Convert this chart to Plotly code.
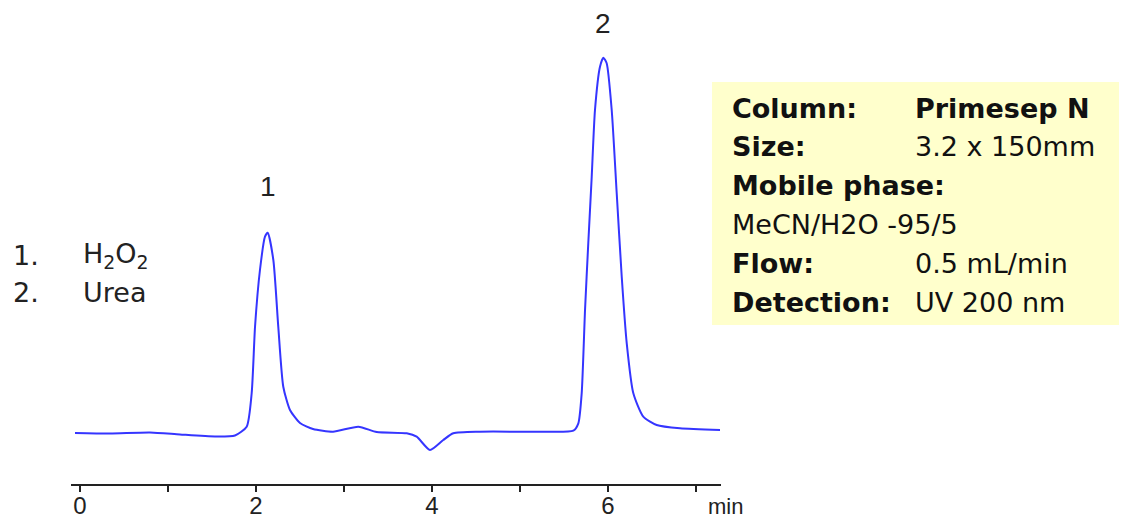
import plotly.graph_objects as go

# Chromatogram trace (time in min, signal in arbitrary units)
time_min = [-0.057, 0.341, 0.795, 1.136, 1.534, 1.761, 1.894, 1.951, 1.989, 2.045,
            2.102, 2.133, 2.197, 2.253, 2.310, 2.386, 2.500, 2.648, 2.875, 3.163,
            3.372, 3.713, 3.826, 3.977, 4.128, 4.242, 4.545, 5.227, 5.606, 5.663,
            5.701, 5.739, 5.776, 5.815, 5.852, 5.909, 5.947, 5.985, 6.042, 6.099,
            6.156, 6.213, 6.288, 6.401, 6.553, 6.818, 7.273]
signal = [0.0, -0.5, 0.5, -1.5, -3.5, -2.5, 6.3, 40.0, 106.3, 163.0,
          196.3, 200.3, 173.0, 106.3, 46.3, 23.0, 10.0, 4.0, 1.3, 6.3,
          1.0, -0.3, -3.7, -17.0, -7.0, -0.3, 1.3, 1.3, 2.3, 9.7,
          39.7, 123.0, 190.0, 256.3, 323.0, 366.3, 375.3, 369.7, 323.0, 239.7,
          156.3, 89.7, 39.7, 16.3, 8.0, 4.7, 3.0]

tick_values = [0, 1, 2, 3, 4, 5, 6, 7]
tick_labels = ["0", "", "2", "", "4", "", "6", ""]

peak_labels = ["1", "2"]
peak_times = [2.133, 5.947]
peak_heights = [200.3, 375.3]

compounds_num = ["1.", "2."]
compounds_name = ["H<sub>2</sub>O<sub>2</sub>", "Urea"]

info_keys = ["Column:", "Size:", "Mobile phase:", "MeCN/H2O -95/5", "Flow:", "Detection:"]
info_key_bold = [True, True, True, False, True, True]
info_vals = ["Primesep N", "3.2 x 150mm", "", "", "0.5 mL/min", "UV 200 nm"]
info_val_bold = [True, False, False, False, False, False]

# the page margin is removed (post_script) so the figure fills the window exactly
W, H = 1121, 522
PL, PR, PT, PB = 71, 721, 20, 484          # plot area in window pixels
L, T = PL, PT
PW, PH = PR - PL, PB - PT
R, B = W - L - PW, H - T - PH


def xp(px):
    return (px - PL) / PW


def yp(py):
    return (PB - py) / PH


label_shift = [46, 34]

fig = go.Figure()
fig.add_trace(go.Scatter(
    x=time_min, y=signal, mode="lines",
    line=dict(color="#3535ff", width=2, shape="spline", smoothing=0.6),
    hoverinfo="skip", showlegend=False))

ann = []
for lab, t, h, sh in zip(peak_labels, peak_times, peak_heights, label_shift):
    ann.append(dict(x=t, y=h, xref="x", yref="y", text=lab, showarrow=False,
                    yanchor="middle", yshift=sh,
                    font=dict(family="Liberation Sans", size=28, color="#222")))

for i, (n, name) in enumerate(zip(compounds_num, compounds_name)):
    y = 255 + 37 * i
    ann.append(dict(x=xp(11), y=yp(y), xref="paper", yref="paper", text=n,
                    showarrow=False, xanchor="left", yanchor="middle",
                    font=dict(family="DejaVu Sans", size=27, color="#222")))
    ann.append(dict(x=xp(81), y=yp(y), xref="paper", yref="paper", text=name,
                    showarrow=False, xanchor="left", yanchor="middle",
                    font=dict(family="DejaVu Sans", size=27, color="#222")))

for i in range(len(info_keys)):
    y = 108 + 38.8 * i
    k = info_keys[i]
    if info_key_bold[i]:
        k = "<b>" + k + "</b>"
    ann.append(dict(x=xp(730), y=yp(y), xref="paper", yref="paper", text=k,
                    showarrow=False, xanchor="left", yanchor="middle",
                    font=dict(family="DejaVu Sans", size=27, color="#111")))
    if info_vals[i]:
        v = info_vals[i]
        if info_val_bold[i]:
            v = "<b>" + v + "</b>"
        ann.append(dict(x=xp(913), y=yp(y), xref="paper", yref="paper", text=v,
                        showarrow=False, xanchor="left", yanchor="middle",
                        font=dict(family="DejaVu Sans", size=27, color="#111")))

ann.append(dict(x=xp(725), y=yp(521), xref="paper", yref="paper", text="min",
                showarrow=False, xanchor="center", yanchor="bottom",
                font=dict(family="Liberation Sans", size=22, color="#222")))

fig.update_layout(
    width=W, height=H, autosize=False,
    margin=dict(l=L, r=R, t=T, b=B, pad=0, autoexpand=False),
    paper_bgcolor="white", plot_bgcolor="white",
    xaxis=dict(range=[-0.1023, 7.2841], showgrid=False, zeroline=False,
               showline=True, linecolor="#222", linewidth=2,
               ticks="outside", ticklen=6, tickwidth=2, tickcolor="#222",
               tickmode="array", tickvals=tick_values, ticktext=tick_labels,
               ticklabelstandoff=-7,
               tickfont=dict(family="Liberation Sans", size=24, color="#222"),
               automargin=False, fixedrange=True),
    yaxis=dict(range=[-51, 413], visible=False, fixedrange=True, automargin=False),
    shapes=[dict(type="rect", xref="paper", yref="paper",
                 x0=xp(712), x1=xp(1119), y0=yp(325), y1=yp(82),
                 fillcolor="#FFFFCC", line=dict(width=0), layer="below")],
    annotations=ann,
)

fig.write_html(
    "out.html",
    config={"responsive": False, "displayModeBar": False},
    post_script="document.body.style.margin='0';document.body.style.overflow='hidden';",
)
